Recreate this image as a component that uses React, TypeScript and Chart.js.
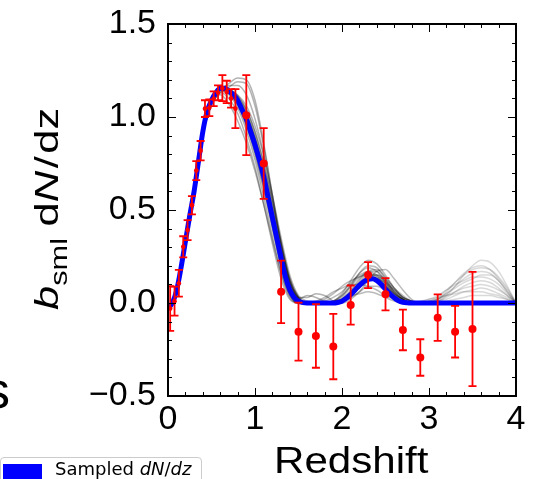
import React, { useEffect, useRef } from "react";
import { Chart, registerables } from "chart.js";

Chart.register(...registerables);

// ---- measured points with error bars ----
const pointZ = [0.025, 0.075, 0.125, 0.175, 0.225, 0.275, 0.325, 0.375, 0.425, 0.475, 0.525, 0.575, 0.625, 0.675, 0.725, 0.775,
  0.9, 1.1, 1.3, 1.5, 1.7, 1.9, 2.1, 2.3, 2.5, 2.7, 2.9, 3.1, 3.3, 3.5];
const pointY = [-0.03, 0.01, 0.106, 0.302, 0.392, 0.526, 0.712, 0.819, 1.045, 1.05, 1.098, 1.13, 1.155, 1.135, 1.1, 1.045,
  1.01, 0.75, 0.06, -0.154, -0.177, -0.234, -0.011, 0.15, 0.047, -0.145, -0.293, -0.079, -0.154, -0.14];
const pointErr = [0.12, 0.078, 0.072, 0.057, 0.054, 0.049, 0.051, 0.052, 0.045, 0.045, 0.04, 0.04, 0.07, 0.06, 0.05, 0.105,
  0.215, 0.19, 0.168, 0.156, 0.171, 0.176, 0.105, 0.07, 0.087, 0.109, 0.098, 0.125, 0.139, 0.307];

// ---- best (blue) sampled dN/dz ----
const blueZ = [0, 0.05, 0.1, 0.15, 0.2, 0.25, 0.3, 0.35, 0.4, 0.45, 0.5, 0.55, 0.6, 0.65, 0.7, 0.75, 0.8, 0.85, 0.9, 0.95,
  1.0, 1.05, 1.1, 1.15, 1.2, 1.25, 1.3, 1.35, 1.4, 1.45, 1.5, 1.55, 1.6,
  1.9, 1.95, 2.0, 2.05, 2.1, 2.15, 2.2, 2.25, 2.3, 2.35, 2.4, 2.45, 2.5, 2.55, 2.6, 2.65, 2.7, 2.75, 2.8, 4.0];
const blueY = [-0.03, 0.0, 0.07, 0.19, 0.33, 0.47, 0.6, 0.76, 0.92, 1.03, 1.09, 1.13, 1.155, 1.155, 1.14, 1.12, 1.09, 1.04, 0.99, 0.92,
  0.85, 0.77, 0.68, 0.57, 0.46, 0.35, 0.24, 0.14, 0.07, 0.03, 0.01, 0.002, 0,
  0, 0.003, 0.01, 0.025, 0.045, 0.07, 0.095, 0.115, 0.127, 0.13, 0.12, 0.1, 0.075, 0.05, 0.028, 0.012, 0.004, 0.001, 0, 0];

// ---- grey samples: main peak ----
const peakZ = [0.4, 0.5, 0.6, 0.7, 0.8, 0.9, 1.0, 1.1, 1.2, 1.3, 1.4, 1.5, 1.6, 1.7, 1.8, 1.9];
const peakSamples = [
  [0.92, 1.09, 1.15, 1.14, 1.10, 1.02, 0.89, 0.71, 0.50, 0.28, 0.10, 0.02, 0, 0, 0, 0],
  [0.92, 1.08, 1.15, 1.13, 1.07, 0.96, 0.81, 0.62, 0.41, 0.20, 0.05, 0.0, 0, 0, 0, 0],
  [0.92, 1.09, 1.16, 1.15, 1.11, 1.04, 0.92, 0.75, 0.54, 0.32, 0.13, 0.03, 0, 0, 0, 0],
  [0.92, 1.08, 1.14, 1.12, 1.05, 0.93, 0.77, 0.57, 0.36, 0.16, 0.03, 0, 0, 0, 0, 0],
  [0.92, 1.09, 1.16, 1.15, 1.12, 1.06, 0.95, 0.79, 0.58, 0.35, 0.15, 0.04, 0.01, 0, 0, 0],
  [0.92, 1.08, 1.13, 1.10, 1.02, 0.89, 0.73, 0.53, 0.32, 0.13, 0.02, 0, 0, 0, 0, 0],
  [0.92, 1.06, 1.14, 1.18, 1.21, 1.20, 1.09, 0.86, 0.58, 0.31, 0.11, 0.02, 0, 0, 0, 0],
  [0.92, 1.08, 1.15, 1.17, 1.17, 1.12, 0.99, 0.80, 0.56, 0.32, 0.12, 0.03, 0, 0, 0, 0],
  [0.92, 1.07, 1.12, 1.07, 0.98, 0.86, 0.71, 0.53, 0.34, 0.16, 0.04, 0, 0, 0, 0, 0],
  [0.92, 1.09, 1.15, 1.14, 1.09, 1.00, 0.86, 0.69, 0.48, 0.27, 0.10, 0.03, 0.03, 0.05, 0.04, 0.01],
  [0.92, 1.09, 1.15, 1.13, 1.08, 0.98, 0.84, 0.66, 0.45, 0.24, 0.08, 0.02, 0.04, 0.03, 0.01, 0],
  [0.92, 1.09, 1.155, 1.14, 1.09, 0.995, 0.86, 0.69, 0.47, 0.26, 0.08, 0.01, 0, 0, 0, 0],
  [0.92, 1.09, 1.155, 1.145, 1.10, 1.01, 0.88, 0.70, 0.49, 0.27, 0.09, 0.015, 0, 0, 0, 0],
  [0.92, 1.07, 1.13, 1.16, 1.19, 1.18, 1.06, 0.84, 0.58, 0.33, 0.13, 0.03, 0, 0, 0, 0],
  [0.92, 1.09, 1.155, 1.14, 1.095, 1.005, 0.87, 0.695, 0.48, 0.265, 0.09, 0.015, 0, 0, 0, 0],
  [0.92, 1.09, 1.15, 1.135, 1.08, 0.985, 0.845, 0.665, 0.45, 0.235, 0.07, 0.01, 0, 0, 0, 0],
  [0.92, 1.09, 1.155, 1.145, 1.105, 1.02, 0.895, 0.72, 0.51, 0.29, 0.11, 0.02, 0, 0, 0, 0],
  [0.92, 1.085, 1.15, 1.13, 1.075, 0.975, 0.83, 0.645, 0.43, 0.22, 0.06, 0.005, 0, 0, 0, 0],
  [0.92, 1.09, 1.16, 1.15, 1.115, 1.04, 0.92, 0.75, 0.54, 0.31, 0.12, 0.025, 0, 0, 0, 0],
  [0.92, 1.085, 1.145, 1.125, 1.065, 0.955, 0.80, 0.61, 0.40, 0.19, 0.045, 0, 0, 0, 0, 0],
];

// ---- grey samples: second bump ----
const bumpZ = [1.6, 1.7, 1.8, 1.9, 2.0, 2.1, 2.2, 2.3, 2.4, 2.5, 2.6, 2.7, 2.8, 2.9, 3.0];
const bumpSamples = [
  [0, 0, 0, 0.005, 0.03, 0.09, 0.16, 0.2, 0.19, 0.13, 0.06, 0.02, 0, 0, 0],
  [0, 0, 0, 0, 0.02, 0.07, 0.13, 0.17, 0.17, 0.12, 0.06, 0.02, 0, 0, 0],
  [0, 0, 0, 0.01, 0.04, 0.09, 0.14, 0.16, 0.14, 0.09, 0.04, 0.01, 0, 0, 0],
  [0, 0, 0, 0, 0.01, 0.04, 0.08, 0.12, 0.13, 0.11, 0.07, 0.03, 0.01, 0, 0],
  [0, 0, 0, 0, 0.01, 0.03, 0.06, 0.09, 0.09, 0.07, 0.04, 0.02, 0, 0, 0],
  [0, 0, 0, 0.01, 0.02, 0.04, 0.05, 0.06, 0.05, 0.03, 0.01, 0, 0, 0, 0],
  [0, 0.005, 0.02, 0.05, 0.09, 0.12, 0.14, 0.15, 0.13, 0.09, 0.05, 0.02, 0, 0, 0],
  [0, 0, 0, 0.01, 0.05, 0.12, 0.19, 0.23, 0.21, 0.15, 0.08, 0.03, 0.01, 0, 0],
  [0, 0, 0, 0.01, 0.04, 0.1, 0.16, 0.19, 0.17, 0.11, 0.05, 0.01, 0, 0, 0],
  [0, 0, 0, 0, 0, 0.02, 0.06, 0.12, 0.17, 0.18, 0.13, 0.07, 0.02, 0, 0],
  [0, 0.01, 0.03, 0.06, 0.08, 0.1, 0.1, 0.09, 0.07, 0.04, 0.02, 0, 0, 0, 0],
  [0, 0, 0, 0.005, 0.02, 0.06, 0.12, 0.17, 0.18, 0.14, 0.08, 0.03, 0.01, 0, 0],
  [0, 0, 0.01, 0.03, 0.06, 0.11, 0.15, 0.17, 0.15, 0.1, 0.05, 0.02, 0, 0, 0],
  [0, 0, 0, 0, 0.01, 0.05, 0.1, 0.14, 0.15, 0.13, 0.08, 0.04, 0.01, 0, 0],
  [0, 0, 0, 0, 0.01, 0.05, 0.1, 0.13, 0.13, 0.1, 0.05, 0.02, 0, 0, 0],
  [0, 0, 0, 0.005, 0.02, 0.06, 0.11, 0.15, 0.15, 0.11, 0.06, 0.02, 0, 0, 0],
  [0, 0, 0, 0, 0.01, 0.04, 0.09, 0.13, 0.14, 0.12, 0.07, 0.03, 0.01, 0, 0],
];

// ---- grey samples: high-z bump ----
const tailZ = [2.8, 2.9, 3.0, 3.1, 3.2, 3.3, 3.4, 3.5, 3.6, 3.7, 3.8, 3.9, 4.0];
const tailSamples = [
  [0, 0, 0, 0.01, 0.04, 0.09, 0.15, 0.2, 0.23, 0.22, 0.17, 0.09, 0],
  [0, 0, 0.01, 0.03, 0.07, 0.11, 0.16, 0.19, 0.2, 0.18, 0.13, 0.07, 0],
  [0, 0, 0, 0.02, 0.05, 0.09, 0.13, 0.16, 0.17, 0.16, 0.12, 0.06, 0],
  [0, 0.005, 0.02, 0.04, 0.07, 0.1, 0.12, 0.14, 0.14, 0.13, 0.1, 0.05, 0],
  [0, 0, 0, 0.01, 0.03, 0.06, 0.09, 0.11, 0.12, 0.11, 0.08, 0.04, 0],
  [0, 0, 0.01, 0.02, 0.04, 0.06, 0.08, 0.09, 0.1, 0.09, 0.07, 0.04, 0],
  [0, 0, 0, 0.01, 0.02, 0.04, 0.06, 0.07, 0.08, 0.07, 0.05, 0.03, 0],
  [0, 0.01, 0.02, 0.03, 0.04, 0.05, 0.06, 0.06, 0.06, 0.05, 0.04, 0.02, 0],
  [0, 0, 0, 0, 0.01, 0.02, 0.03, 0.04, 0.04, 0.04, 0.03, 0.02, 0],
  [0, 0, 0, 0.02, 0.06, 0.11, 0.15, 0.18, 0.19, 0.18, 0.14, 0.08, 0],
  [0, 0, 0.01, 0.02, 0.05, 0.08, 0.11, 0.13, 0.15, 0.15, 0.12, 0.06, 0],
];

// ---- axes ----
const xMin = 0, xMax = 4, xStep = 1, xMinorStep = 0.2;
const yMin = -0.5, yMax = 1.5, yStep = 0.5, yMinorStep = 0.1;

const FONT = '"Liberation Sans", Arial, sans-serif';

const zip = (xs: number[], ys: number[]) => xs.map((x, i) => ({ x, y: ys[i] }));

const errorBarPlugin = {
  id: "errorBars",
  afterDatasetsDraw(chart: any) {
    const { ctx, scales, chartArea } = chart;
    const xs = scales.x, ys = scales.y;
    ctx.save();
    ctx.beginPath();
    ctx.rect(chartArea.left, chartArea.top, chartArea.right - chartArea.left, chartArea.bottom - chartArea.top);
    ctx.clip();
    ctx.strokeStyle = "#ff0000";
    ctx.lineWidth = 1.8;
    for (let i = 0; i < pointZ.length; i++) {
      const px = xs.getPixelForValue(pointZ[i]);
      const top = ys.getPixelForValue(pointY[i] + pointErr[i]);
      const bot = ys.getPixelForValue(pointY[i] - pointErr[i]);
      const cap = 4;
      ctx.beginPath();
      ctx.moveTo(px, top); ctx.lineTo(px, bot);
      ctx.moveTo(px - cap, top); ctx.lineTo(px + cap, top);
      ctx.moveTo(px - cap, bot); ctx.lineTo(px + cap, bot);
      ctx.stroke();
    }
    ctx.restore();
  },
};

const framePlugin = {
  id: "frameTicks",
  afterDraw(chart: any) {
    const { ctx, scales, chartArea } = chart;
    const xs = scales.x, ys = scales.y;
    const { left, right, top, bottom } = chartArea;
    ctx.save();
    ctx.strokeStyle = "#000";
    ctx.lineWidth = 1;
    ctx.beginPath();
    for (let v = xMin; v <= xMax + 1e-9; v += xMinorStep) {
      const major = Math.abs(v / xStep - Math.round(v / xStep)) < 1e-6;
      const len = major ? 8 : 4;
      const p = Math.round(xs.getPixelForValue(v)) + 0.5;
      ctx.moveTo(p, bottom); ctx.lineTo(p, bottom - len);
      ctx.moveTo(p, top); ctx.lineTo(p, top + len);
    }
    for (let v = yMin; v <= yMax + 1e-9; v += yMinorStep) {
      const major = Math.abs(v / yStep - Math.round(v / yStep)) < 1e-6;
      const len = major ? 8 : 4;
      const p = Math.round(ys.getPixelForValue(v)) + 0.5;
      ctx.moveTo(left, p); ctx.lineTo(left + len, p);
      ctx.moveTo(right, p); ctx.lineTo(right - len, p);
    }
    ctx.stroke();
    ctx.lineWidth = 2;
    ctx.strokeRect(left, top, right - left, bottom - top);
    ctx.restore();

    // axis titles
    ctx.save();
    ctx.fillStyle = "#000";
    ctx.textBaseline = "alphabetic";
    ctx.textAlign = "left";
    ctx.translate(274, 473);
    ctx.scale(1.17, 1);
    ctx.font = `36px ${FONT}`;
    ctx.fillText("Redshift", 0, 0);
    ctx.restore();

    ctx.save();
    ctx.fillStyle = "#000";
    ctx.textBaseline = "alphabetic";
    ctx.textAlign = "left";
    ctx.translate(58, 310);
    ctx.rotate(-Math.PI / 2);
    ctx.scale(1.28, 1);
    let x = 0;
    const seg = (t: string, font: string, dy: number, gap: number) => {
      ctx.font = font;
      ctx.fillText(t, x, dy);
      x += ctx.measureText(t).width + gap;
    };
    seg("b", `italic 34px ${FONT}`, 0, 0);
    seg("sml", `24px ${FONT}`, 8.5, 9);
    seg("d", `34px ${FONT}`, 0, 0);
    seg("N", `italic 34px ${FONT}`, 0, 2);
    seg("/", `34px ${FONT}`, 0, 2);
    seg("dz", `34px ${FONT}`, 0, 0);
    ctx.restore();
  },
};

const fmtY = (v: number) => {
  const s = Math.abs(v).toFixed(1);
  return v < -1e-9 ? "\u2212" + s : s;
};

export default function App() {
  const ref = useRef<HTMLCanvasElement | null>(null);

  useEffect(() => {
    if (!ref.current) return;
    const mk = (data: any[], color: string) => ({
      type: "scatter" as const,
      data,
      showLine: true,
      borderColor: color,
      borderWidth: 1.5,
      pointRadius: 0,
      cubicInterpolationMode: "monotone" as const,
      order: 3,
    });
    const greySets = [
      ...peakSamples.map((s) => mk(zip(peakZ, s), "rgba(0,0,0,0.3)")),
      ...bumpSamples.map((s) => mk(zip(bumpZ, s), "rgba(0,0,0,0.27)")),
      ...tailSamples.map((s) => mk(zip(tailZ, s), "rgba(0,0,0,0.15)")),
    ];

    const chart = new Chart(ref.current, {
      type: "scatter",
      data: {
        datasets: [
          {
            data: zip(pointZ, pointY),
            backgroundColor: "#ff0000",
            borderColor: "#ff0000",
            borderWidth: 0,
            pointRadius: (c: any) => (c.raw && c.raw.x < 0.85 ? 2.3 : 4),
            order: 0,
          },
          {
            data: zip(blueZ, blueY),
            showLine: true,
            borderColor: "#0000ff",
            borderWidth: 5,
            pointRadius: 0,
            cubicInterpolationMode: "monotone",
            order: 1,
          },
          ...greySets,
        ] as any,
      },
      options: {
        animation: false,
        responsive: false,
        events: [],
        layout: { padding: { left: 0, right: 28, top: 24, bottom: 0 } },
        plugins: { legend: { display: false }, tooltip: { enabled: false } },
        scales: {
          x: {
            type: "linear",
            min: xMin,
            max: xMax,
            grid: { display: false },
            border: { display: false },
            afterFit: (s: any) => { s.height = 83; },
            ticks: {
              stepSize: xStep,
              color: "#000",
              padding: -5,
              font: { family: FONT, size: 34 },
              callback: (v: any) => String(Math.round(Number(v))),
            },
          },
          y: {
            type: "linear",
            min: yMin,
            max: yMax,
            grid: { display: false },
            border: { display: false },
            afterFit: (s: any) => { s.width = 168; },
            ticks: {
              stepSize: yStep,
              color: "#000",
              padding: 4,
              font: { family: FONT, size: 34, lineHeight: 1.0 },
              callback: (v: any) => fmtY(Number(v)),
            },
          },
        },
      },
      plugins: [errorBarPlugin, framePlugin],
    });
    return () => chart.destroy();
  }, []);

  return (
    <div style={{ position: "fixed", left: 0, top: 0, width: 544, height: 479, overflow: "hidden", background: "#fff" }}>
      <canvas ref={ref} width={544} height={479} style={{ position: "absolute", left: 0, top: 0 }} />
      <span style={{ position: "absolute", left: -16, top: 364, fontFamily: FONT, fontSize: 52, lineHeight: "52px", color: "#000" }}>s</span>
      <div style={{ position: "absolute", left: 0, top: 457, width: 202, height: 40, border: "1px solid #cccccc", borderRadius: 4, background: "#fff", boxSizing: "border-box" }}>
        <div style={{ position: "absolute", left: 2, top: 6, width: 39, height: 15, background: "#0000ff" }} />
        <span style={{ position: "absolute", left: 54, top: 2, fontFamily: '"DejaVu Sans", sans-serif', fontSize: 18, lineHeight: "18px", color: "#000", whiteSpace: "nowrap" }}>
          Sampled <i>dN</i>/<i>dz</i>
        </span>
      </div>
    </div>
  );
}
